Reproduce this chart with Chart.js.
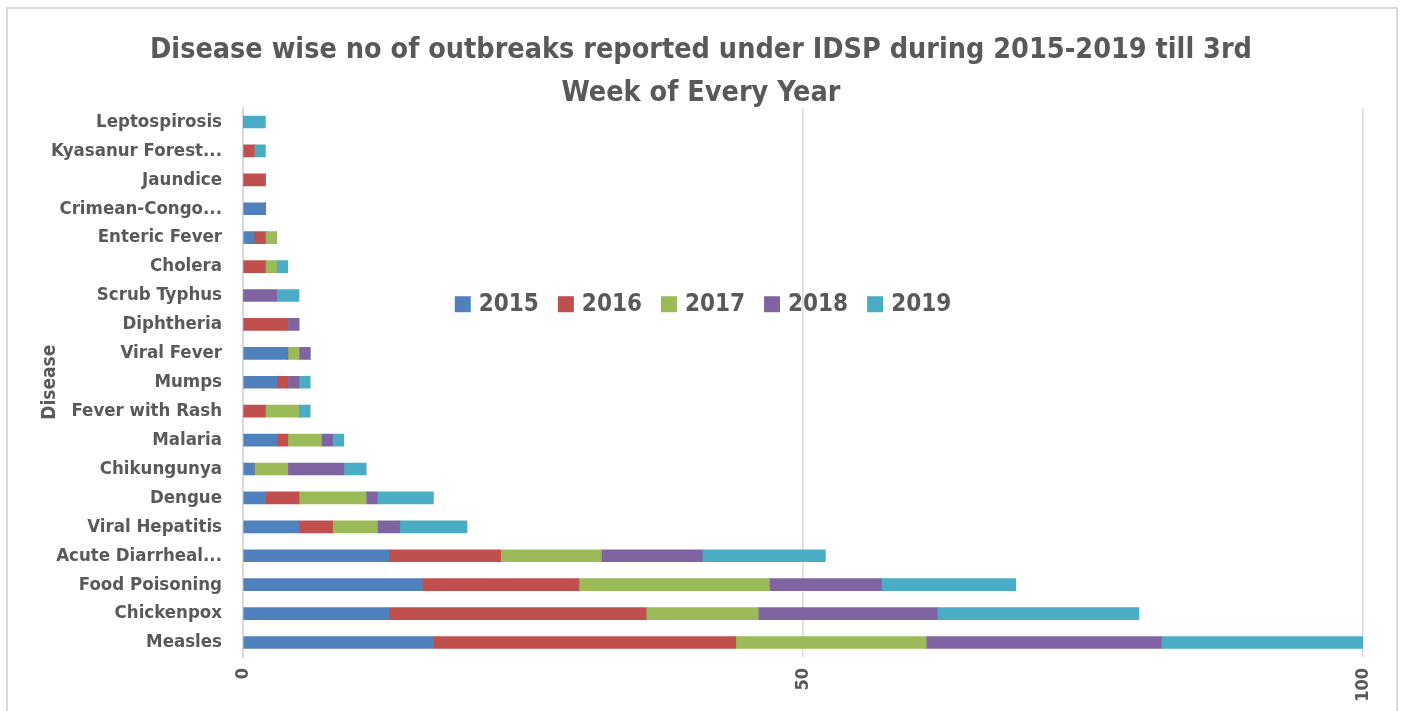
<!DOCTYPE html>
<html>
<head>
<meta charset="utf-8">
<script src="https://cdn.jsdelivr.net/npm/chart.js@4.4.1/dist/chart.umd.min.js"></script>
<style>
  html, body { margin: 0; padding: 0; background: #ffffff; }
  #wrap { position: relative; width: 1402px; height: 711px; overflow: hidden; }
  #frame {
    position: absolute; left: 6px; top: 7px; width: 1388px; height: 720px;
    border: 2px solid #d9d9d9; pointer-events: none;
  }
  canvas { position: absolute; left: 0; top: 0; }
</style>
</head>
<body>
<div id="wrap">
  <canvas id="chart" width="1402" height="711"></canvas>
  <div id="frame"></div>
</div>
<script>
const diseases = [
  "Leptospirosis", "Kyasanur Forest...", "Jaundice", "Crimean-Congo...",
  "Enteric Fever", "Cholera", "Scrub Typhus", "Diphtheria", "Viral Fever",
  "Mumps", "Fever with Rash", "Malaria", "Chikungunya", "Dengue",
  "Viral Hepatitis", "Acute Diarrheal...", "Food Poisoning", "Chickenpox", "Measles"
];
const years = ["2015", "2016", "2017", "2018", "2019"];
const y2015 = [0, 0, 0, 2, 1, 0, 0, 0, 4, 3, 0, 3, 1, 2, 5, 13, 16, 13, 17];
const y2016 = [0, 1, 2, 0, 1, 2, 0, 4, 0, 1, 2, 1, 0, 3, 3, 10, 14, 23, 27];
const y2017 = [0, 0, 0, 0, 1, 1, 0, 0, 1, 0, 3, 3, 3, 6, 4, 9, 17, 10, 17];
const y2018 = [0, 0, 0, 0, 0, 0, 3, 1, 1, 1, 0, 1, 5, 1, 2, 9, 10, 16, 21];
const y2019 = [2, 1, 0, 0, 0, 1, 2, 0, 0, 1, 1, 1, 2, 5, 6, 11, 12, 18, 18];
const xTicks = [0, 50, 100];

const colors = ["#4F81BD", "#C0504D", "#9BBB59", "#8064A2", "#4BACC6"];
const FONT = "'Liberation Sans Narrow', 'DejaVu Sans Condensed', 'Arial Narrow', sans-serif";
const GREY = "#595959";

// legend sits inside the plot, like the excel one
const innerLegend = {
  id: "innerLegend",
  afterDraw(chart) {
    const ctx = chart.ctx;
    const area = chart.chartArea;
    ctx.save();
    ctx.font = "bold 24px " + FONT;
    ctx.textBaseline = "middle";
    const box = 16, gap = 8, space = 19;
    const sets = chart.data.datasets;
    let total = 0;
    sets.forEach((d, i) => {
      total += box + gap + ctx.measureText(d.label).width + (i < sets.length - 1 ? space : 0);
    });
    let x = chart.width / 2 - total / 2 + 2;
    const y = area.top + (area.bottom - area.top) * 0.358;
    sets.forEach((d) => {
      ctx.fillStyle = d.backgroundColor;
      ctx.fillRect(x, y - box / 2, box, box);
      x += box + gap;
      ctx.fillStyle = GREY;
      ctx.fillText(d.label, x, y + 1);
      x += ctx.measureText(d.label).width + space;
    });
    ctx.restore();
  }
};

const series = [y2015, y2016, y2017, y2018, y2019];

new Chart(document.getElementById("chart"), {
  type: "bar",
  data: {
    labels: diseases,
    datasets: series.map((vals, i) => ({
      label: years[i],
      data: vals,
      backgroundColor: colors[i],
      borderWidth: 0,
      barThickness: 12,
    })),
  },
  options: {
    indexAxis: "y",
    responsive: false,
    animation: false,
    layout: { padding: { left: 39, right: 39, top: 0, bottom: 0 } },
    plugins: {
      legend: { display: false },
      tooltip: { enabled: false },
      title: {
        display: true,
        text: [
          "Disease wise no of outbreaks reported under IDSP during 2015-2019 till 3rd",
          "Week of Every Year",
        ],
        color: GREY,
        font: { family: FONT, size: 28.5, weight: "bold", lineHeight: 1.5 },
        padding: { top: 29, bottom: -7 },
      },
    },
    scales: {
      x: {
        stacked: true,
        min: 0,
        max: 100,
        afterBuildTicks: (s) => { s.ticks = xTicks.map((v) => ({ value: v })); },
        afterFit: (s) => { s.height = 54; },
        grid: { color: "#d9d9d9", lineWidth: 1.5, drawTicks: false },
        border: { display: false },
        ticks: {
          color: GREY,
          font: { family: FONT, size: 18, weight: "bold" },
          minRotation: 90,
          maxRotation: 90,
          padding: 11,
        },
      },
      y: {
        stacked: true,
        afterFit: (s) => { s.width = 204; },
        grid: { display: false, drawTicks: false },
        border: { display: true, color: "#d9d9d9", width: 2 },
        ticks: {
          color: GREY,
          font: { family: FONT, size: 18.5, weight: "bold" },
          padding: 21,
          autoSkip: false,
        },
        title: {
          display: true,
          text: "Disease",
          color: GREY,
          font: { family: FONT, size: 19, weight: "bold", lineHeight: 1.2 },
          padding: { top: 0, bottom: 0 },
        },
      },
    },
  },
  plugins: [innerLegend],
});
</script>
</body>
</html>
